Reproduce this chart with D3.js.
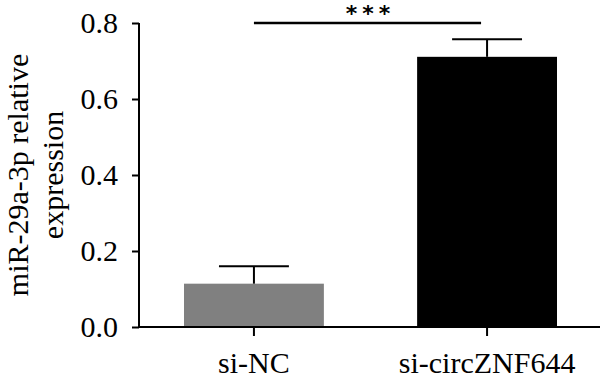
<!DOCTYPE html>
<html><head><meta charset="utf-8">
<script src="https://cdn.jsdelivr.net/npm/d3@7"></script>
<style>body{margin:0;background:#fff}svg{display:block}text{font-family:'Liberation Serif','Times New Roman',serif}</style>
</head><body>
<script>
const categories = ["si-NC", "si-circZNF644"];
const values = [0.114, 0.711];
const errors = [0.046, 0.046];
const colors = ["#808080", "#000000"];
const yTicks = [0.0, 0.2, 0.4, 0.6, 0.8];
const significance = "***";
const yTitleLines = ["miR-29a-3p relative", "expression"];

const W = 600, H = 380;
const svg = d3.select("body").append("svg").attr("width", W).attr("height", H);
const font = "'Liberation Serif', 'Times New Roman', serif";

const x = d3.scaleBand().domain(categories).range([139, 602]).paddingInner(0.4).paddingOuter(0.193);
const y = d3.scaleLinear().domain([0, 0.8]).range([327, 23]);

const g = svg.append("g");

// bars
g.selectAll("rect.bar").data(categories).join("rect")
  .attr("x", d => x(d)).attr("width", x.bandwidth())
  .attr("y", (d, i) => y(values[i])).attr("height", (d, i) => y(0) - y(values[i]))
  .attr("fill", (d, i) => colors[i]);

// error bars
categories.forEach((c, i) => {
  const cx = x(c) + x.bandwidth() / 2;
  const capW = x.bandwidth() / 2;
  g.append("line").attr("x1", cx).attr("x2", cx)
    .attr("y1", y(values[i])).attr("y2", y(values[i] + errors[i]))
    .attr("stroke", "#000").attr("stroke-width", 2);
  g.append("line").attr("x1", cx - capW / 2).attr("x2", cx + capW / 2)
    .attr("y1", y(values[i] + errors[i])).attr("y2", y(values[i] + errors[i]))
    .attr("stroke", "#000").attr("stroke-width", 2);
});

// y axis
const yAxis = d3.axisLeft(y).tickValues(yTicks).tickFormat(d3.format(".1f")).tickSize(7).tickPadding(14);
const ya = svg.append("g").attr("transform", "translate(139,0)").call(yAxis)
  .attr("font-family", font).attr("font-size", 30);
ya.select(".domain").attr("stroke-width", 2).attr("d", "M0,23V327");
ya.selectAll(".tick line").attr("stroke-width", 2);
ya.selectAll(".tick text").attr("fill", "#000").attr("dy", "0.32em");

// x axis
const xAxis = d3.axisBottom(x).tickSize(9);
const xa = svg.append("g").attr("transform", "translate(0,327)").call(xAxis)
  .attr("font-family", font).attr("font-size", 30);
xa.select(".domain").attr("stroke-width", 2).attr("d", "M139,0H600");
xa.selectAll(".tick line").attr("stroke-width", 2);
xa.selectAll(".tick text").attr("fill", "#000").attr("y", 46).attr("dy", 0);

// y title
const yt = svg.append("text").attr("transform", "translate(28,175) rotate(-90)")
  .attr("text-anchor", "middle").attr("font-size", 30).attr("fill", "#000");
yTitleLines.forEach((t, i) => yt.append("tspan").attr("x", 0).attr("dy", i === 0 ? 0 : 35).text(t));

// significance
const x1 = x(categories[0]) + x.bandwidth() / 2, x2 = x(categories[1]) + x.bandwidth() / 2 - 6;
svg.append("line").attr("x1", x1).attr("x2", x2).attr("y1", 23).attr("y2", 23)
  .attr("stroke", "#000").attr("stroke-width", 2.5);
svg.append("text").attr("x", (x1 + x2) / 2 + 3).attr("y", 21).attr("text-anchor", "middle")
  .style("font-family", "'DejaVu Sans', sans-serif").attr("font-weight", "bold")
  .attr("font-size", 22).attr("letter-spacing", 5).text(significance);
</script>
</body></html>
